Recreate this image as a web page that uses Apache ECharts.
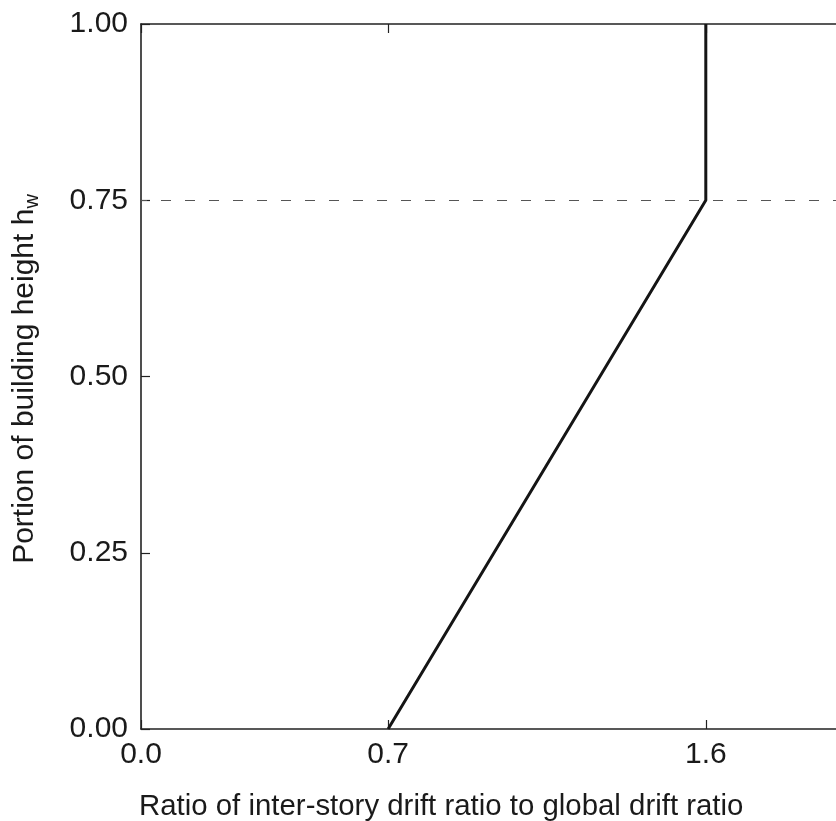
<!DOCTYPE html>
<html>
<head>
<meta charset="utf-8">
<script src="https://cdn.jsdelivr.net/npm/echarts@6/dist/echarts.min.js"></script>
<style>
html,body{margin:0;padding:0;overflow:hidden;background:#fff;}
#c{width:900px;height:821px;}
</style>
</head>
<body>
<div id="c"></div>
<script>
// Data
const profileX = [0.7, 1.6, 1.6];
const profileY = [0.0, 0.75, 1.0];
const dashedLevel = 0.75;
const xTickValues = [0.0, 0.7, 1.6, 2.0];
const xLabelValues = [0.0, 0.7, 1.6];
const yTickValues = [0, 0.25, 0.5, 0.75, 1.0];
const xTitle = 'Ratio of inter-story drift ratio to global drift ratio';
const yTitleMain = 'Portion of building height h';
const yTitleSub = 'w';

const FONT = 'Liberation Sans, Arial, Helvetica, sans-serif';
const axisCol = '#222';

const chart = echarts.init(document.getElementById('c'), null, {renderer: 'canvas'});
const lineData = profileX.map((x, i) => [x, profileY[i]]);

const option = {
  animation: false,
  backgroundColor: '#fff',
  grid: {left: 141, top: 24, width: 706, height: 705, containLabel: false},
  xAxis: [
    {
      type: 'value', position: 'bottom', min: 0, max: 2.0,
      axisLine: {show: true, onZero: false, lineStyle: {color: axisCol, width: 1.6}},
      axisTick: {show: true, inside: true, length: 9, customValues: xTickValues, lineStyle: {color: axisCol, width: 1.2}},
      axisLabel: {show: true, customValues: xLabelValues, margin: 11, color: '#1a1a1a', fontFamily: FONT, fontSize: 30,
        formatter: v => v.toFixed(1)},
      splitLine: {show: false}
    },
    {
      type: 'value', position: 'top', min: 0, max: 2.0,
      axisLine: {show: true, onZero: false, lineStyle: {color: axisCol, width: 1.6}},
      axisTick: {show: true, inside: true, length: 9, customValues: xTickValues, lineStyle: {color: axisCol, width: 1.2}},
      axisLabel: {show: false},
      splitLine: {show: false}
    }
  ],
  yAxis: [
    {
      type: 'value', position: 'left', min: 0, max: 1.0, interval: 0.25,
      axisLine: {show: true, onZero: false, lineStyle: {color: axisCol, width: 1.6}},
      axisTick: {show: true, inside: true, length: 9, lineStyle: {color: axisCol, width: 1.2}},
      axisLabel: {show: true, margin: 13, color: '#1a1a1a', fontFamily: FONT, fontSize: 30,
        formatter: v => v.toFixed(2)},
      splitLine: {show: false}
    },
    {
      type: 'value', position: 'right', min: 0, max: 1.0, interval: 0.25,
      axisLine: {show: true, onZero: false, lineStyle: {color: axisCol, width: 1.6}},
      axisTick: {show: true, inside: true, length: 9, lineStyle: {color: axisCol, width: 1.2}},
      axisLabel: {show: false},
      splitLine: {show: false}
    }
  ],
  series: [
    {
      type: 'line', xAxisIndex: 0, yAxisIndex: 0,
      data: lineData, symbol: 'none',
      lineStyle: {color: '#151515', width: 3},
      markLine: {
        silent: true, symbol: 'none', label: {show: false},
        lineStyle: {color: '#555', width: 1.2, type: [10, 14], dashOffset: 4},
        data: [{yAxis: dashedLevel}]
      },
      z: 3
    }
  ],
  graphic: [
    {
      type: 'text', left: 139, top: 792,
      style: {text: xTitle, font: '29.4px ' + FONT, fill: '#1a1a1a'}
    },
    {
      type: 'text', x: 25, y: 379, rotation: Math.PI / 2,
      style: {
        text: '{m|' + yTitleMain + '}{s|' + yTitleSub + '}',
        align: 'center', verticalAlign: 'middle',
        rich: {
          m: {fontSize: 30, fontFamily: FONT, fill: '#1a1a1a'},
          s: {fontSize: 20, fontFamily: FONT, fill: '#1a1a1a', padding: [14, 0, 0, 0]}
        }
      }
    }
  ]
};
chart.setOption(option);
</script>
</body>
</html>
